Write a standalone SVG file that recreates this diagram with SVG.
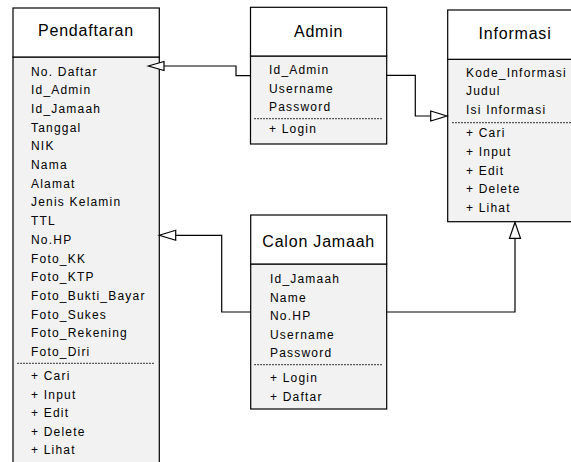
<svg xmlns="http://www.w3.org/2000/svg" width="571" height="462" viewBox="0 0 571 462">
<defs>
<style>
.hdr{fill:#ffffff;stroke:#000;stroke-width:1.2}
.body{fill:#f2f2f2;stroke:#000;stroke-width:1.2}
.ttl{font-family:"Liberation Sans",Arial,sans-serif;font-size:16px;letter-spacing:0.8px;fill:#000;text-anchor:middle}
.txt{font-family:"Liberation Sans",Arial,sans-serif;font-size:12px;letter-spacing:1.2px;fill:#000}
.sep{stroke:#333;stroke-width:1;stroke-dasharray:2 1}
.conn{fill:none;stroke:#000;stroke-width:1.2}
.tri{fill:#fff;stroke:#000;stroke-width:1.2}
</style>
</defs>
<rect width="571" height="462" fill="#fff"/>

<g id="pendaftaran">
<rect class="body" x="13" y="57" width="146.3" height="413"/>
<rect class="hdr" x="13" y="8" width="146.3" height="49"/>
<text class="ttl" x="86" y="36">Pendaftaran</text>
<text class="txt">
<tspan x="31" y="75.5">No. Daftar</tspan>
<tspan x="31" y="94.2">Id_Admin</tspan>
<tspan x="31" y="112.9">Id_Jamaah</tspan>
<tspan x="31" y="131.6">Tanggal</tspan>
<tspan x="31" y="150.3">NIK</tspan>
<tspan x="31" y="169">Nama</tspan>
<tspan x="31" y="187.7">Alamat</tspan>
<tspan x="31" y="206.4">Jenis Kelamin</tspan>
<tspan x="31" y="225.1">TTL</tspan>
<tspan x="31" y="243.8">No.HP</tspan>
<tspan x="31" y="262.5">Foto_KK</tspan>
<tspan x="31" y="281.2">Foto_KTP</tspan>
<tspan x="31" y="299.9">Foto_Bukti_Bayar</tspan>
<tspan x="31" y="318.6">Foto_Sukes</tspan>
<tspan x="31" y="337.3">Foto_Rekening</tspan>
<tspan x="31" y="356">Foto_Diri</tspan>
<tspan x="31" y="380">+ Cari</tspan>
<tspan x="31" y="398.5">+ Input</tspan>
<tspan x="31" y="417">+ Edit</tspan>
<tspan x="31" y="435.5">+ Delete</tspan>
<tspan x="31" y="454">+ Lihat</tspan>
</text>
<line class="sep" x1="17" y1="363.3" x2="154" y2="363.3"/>
</g>

<g id="admin">
<rect class="body" x="250.5" y="56" width="136.2" height="88"/>
<rect class="hdr" x="250.5" y="7.3" width="136.2" height="48.7"/>
<text class="ttl" x="318.6" y="36.7">Admin</text>
<text class="txt">
<tspan x="269" y="74">Id_Admin</tspan>
<tspan x="269" y="92.7">Username</tspan>
<tspan x="269" y="111.3">Password</tspan>
<tspan x="269" y="133.3">+ Login</tspan>
</text>
<line class="sep" x1="254" y1="118.7" x2="382" y2="118.7"/>
</g>

<g id="informasi">
<rect class="body" x="447.7" y="59.3" width="135" height="162.4"/>
<rect class="hdr" x="447.7" y="10" width="135" height="49.3"/>
<text class="ttl" x="515" y="39.3">Informasi</text>
<text class="txt">
<tspan x="466" y="76.7">Kode_Informasi</tspan>
<tspan x="466" y="95.2">Judul</tspan>
<tspan x="466" y="113.7">Isi Informasi</tspan>
<tspan x="466" y="137.3">+ Cari</tspan>
<tspan x="466" y="156">+ Input</tspan>
<tspan x="466" y="174.5">+ Edit</tspan>
<tspan x="466" y="193">+ Delete</tspan>
<tspan x="466" y="211.5">+ Lihat</tspan>
</text>
<line class="sep" x1="452" y1="122.7" x2="578" y2="122.7"/>
</g>

<g id="calon-jamaah">
<rect class="body" x="250.7" y="264" width="136" height="145"/>
<rect class="hdr" x="250.7" y="215" width="136" height="49"/>
<text class="ttl" x="318.7" y="246.7">Calon Jamaah</text>
<text class="txt">
<tspan x="270" y="283.3">Id_Jamaah</tspan>
<tspan x="270" y="301.8">Name</tspan>
<tspan x="270" y="320.3">No.HP</tspan>
<tspan x="270" y="338.8">Username</tspan>
<tspan x="270" y="357.3">Password</tspan>
<tspan x="270" y="382">+ Login</tspan>
<tspan x="270" y="400.5">+ Daftar</tspan>
</text>
<line class="sep" x1="254" y1="364.7" x2="382" y2="364.7"/>
</g>

<g id="connectors">
<polyline class="conn" points="250.5,75.7 236,75.7 236,66 164,66"/>
<polygon class="tri" points="148.3,66 164,61.5 164,70.5"/>
<polyline class="conn" points="386.7,75.3 415.3,75.3 415.3,116 430.7,116"/>
<polygon class="tri" points="447,116 430.7,111 430.7,121"/>
<polyline class="conn" points="250.7,312 221.7,312 221.7,235.3 175.7,235.3"/>
<polygon class="tri" points="159.3,235.3 175.7,230.3 175.7,240.3"/>
<polyline class="conn" points="386.7,312 515,312 515,238.3"/>
<polygon class="tri" points="515,222.3 509.5,238.3 520.5,238.3"/>
</g>
</svg>
